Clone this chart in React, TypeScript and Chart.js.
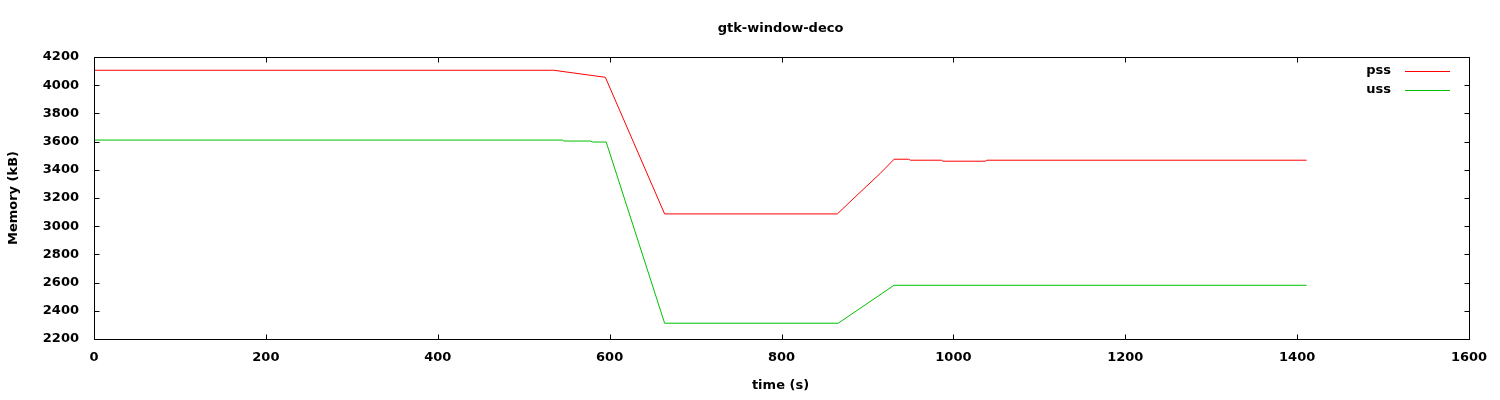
import React, { useEffect, useRef } from "react";
import { Chart, registerables } from "chart.js";

Chart.register(...registerables);

const TITLE = "gtk-window-deco";
const X_TITLE = "time (s)";
const Y_TITLE = "Memory (kB)";

const pssTime = [0, 535, 595, 664, 865, 882, 915, 931, 948, 950, 986, 988, 1037, 1039, 1411];
const pssKB = [4106, 4106, 4056, 3087, 3087, 3186, 3375, 3475, 3475, 3468, 3468, 3461, 3461, 3468, 3468];

const ussTime = [0, 545, 547, 578, 580, 596, 664, 866, 931, 1411];
const ussKB = [3611, 3611, 3604, 3604, 3597, 3597, 2312, 2312, 2581, 2581];

const SERIES_LABELS = ["pss", "uss"];
const SERIES_COLORS = ["#ff0000", "#00c000"];

const X_MIN = 0;
const X_MAX = 1600;
const X_STEP = 200;
const Y_MIN = 2200;
const Y_MAX = 4200;
const Y_STEP = 200;

const FONT = "'DejaVu Sans', sans-serif";

const gnuplotDecor = {
  id: "gnuplotDecor",
  afterDraw(chart: any) {
    const ctx = chart.ctx as CanvasRenderingContext2D;
    const { left, right, top, bottom } = chart.chartArea;
    const xs = chart.scales.x;
    const ys = chart.scales.y;
    ctx.save();
    // border
    ctx.strokeStyle = "#000";
    ctx.lineWidth = 1;
    const L = Math.round(left) + 0.5;
    const R = Math.round(right) + 0.5;
    const T = Math.round(top) + 0.5;
    const B = Math.round(bottom) + 0.5;
    ctx.beginPath();
    ctx.rect(L, T, R - L, B - T);
    ctx.stroke();
    // inside ticks (mirrored)
    const TL = 5;
    ctx.beginPath();
    xs.ticks.forEach((t: any) => {
      const px = Math.round(xs.getPixelForValue(t.value)) + 0.5;
      ctx.moveTo(px, B);
      ctx.lineTo(px, B - TL);
      ctx.moveTo(px, T);
      ctx.lineTo(px, T + TL);
    });
    ys.ticks.forEach((t: any) => {
      const py = Math.round(ys.getPixelForValue(t.value)) + 0.5;
      ctx.moveTo(L, py);
      ctx.lineTo(L + TL, py);
      ctx.moveTo(R, py);
      ctx.lineTo(R - TL, py);
    });
    ctx.stroke();

    ctx.fillStyle = "#000";
    ctx.font = `bold 13px ${FONT}`;
    // title
    ctx.textAlign = "center";
    ctx.textBaseline = "middle";
    const cx = (left + right) / 2 - 1;
    ctx.fillText(TITLE, cx, 29);
    // x title
    ctx.fillText(X_TITLE, cx, 386);
    // y title
    ctx.save();
    ctx.translate(14, (top + bottom) / 2);
    ctx.rotate(-Math.PI / 2);
    ctx.fillText(Y_TITLE, 0, 0);
    ctx.restore();

    // legend
    chart.data.datasets.forEach((ds: any, i: number) => {
      const y = top + 13.5 + i * 19;
      ctx.textAlign = "right";
      ctx.textBaseline = "middle";
      ctx.fillStyle = "#000";
      ctx.fillText(ds.label, right - 78, y);
      ctx.strokeStyle = ds.borderColor;
      ctx.beginPath();
      ctx.moveTo(right - 64, Math.round(y) + 0.5);
      ctx.lineTo(right - 19, Math.round(y) + 0.5);
      ctx.stroke();
    });
    ctx.restore();
  },
};

export default function App() {
  const ref = useRef<HTMLCanvasElement | null>(null);

  useEffect(() => {
    if (!ref.current) return;
    const toPts = (xs: number[], ys: number[]) => xs.map((x, i) => ({ x, y: ys[i] }));
    const chart = new Chart(ref.current, {
      type: "line",
      data: {
        datasets: [
          {
            label: SERIES_LABELS[0],
            data: toPts(pssTime, pssKB),
            borderColor: SERIES_COLORS[0],
            borderWidth: 1,
            pointRadius: 0,
            fill: false,
            tension: 0,
          },
          {
            label: SERIES_LABELS[1],
            data: toPts(ussTime, ussKB),
            borderColor: SERIES_COLORS[1],
            borderWidth: 1,
            pointRadius: 0,
            fill: false,
            tension: 0,
          },
        ],
      },
      options: {
        animation: false,
        responsive: false,
        devicePixelRatio: 1,
        layout: { padding: { top: 57, right: 31, left: 0, bottom: 0 } },
        plugins: {
          legend: { display: false },
          title: { display: false },
          tooltip: { enabled: false },
        },
        scales: {
          x: {
            type: "linear",
            min: X_MIN,
            max: X_MAX,
            grid: { display: false, drawTicks: false },
            border: { display: false },
            ticks: {
              stepSize: X_STEP,
              color: "#000",
              padding: 11,
              maxRotation: 0,
              autoSkip: false,
              font: { family: FONT, size: 13, weight: "bold" },
              callback: (v: any) => String(v),
            },
            afterFit: (s: any) => {
              s.height = 61;
            },
          },
          y: {
            type: "linear",
            min: Y_MIN,
            max: Y_MAX,
            grid: { display: false, drawTicks: false },
            border: { display: false },
            ticks: {
              stepSize: Y_STEP,
              color: "#000",
              padding: 15,
              autoSkip: false,
              font: { family: FONT, size: 13, weight: "bold" },
              callback: (v: any) => String(v),
            },
            afterFit: (s: any) => {
              s.width = 94;
            },
          },
        },
      },
      plugins: [gnuplotDecor],
    });
    return () => chart.destroy();
  }, []);

  return (
    <div style={{ position: "fixed", left: 0, top: 0, width: 1500, height: 400, background: "#fff" }}>
      <canvas ref={ref} width={1500} height={400} style={{ display: "block" }} />
    </div>
  );
}
